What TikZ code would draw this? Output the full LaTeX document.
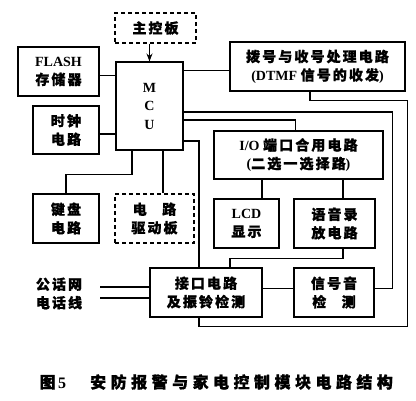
\documentclass[tikz,border=0pt]{standalone}
\usepackage{fontspec}
\setmainfont{Liberation Serif}
\newfontfamily\cjk[LetterSpace=15,FakeBold=1]{Noto Sans CJK SC}
\newfontfamily\capcjk[LetterSpace=28,FakeBold=1]{Noto Sans CJK SC}
\usetikzlibrary{arrows.meta}

\begin{document}
\begin{tikzpicture}[x=1pt, y=-1pt, >=Stealth, line width=1.1pt,
  font=\fontsize{14}{18.5}\selectfont\bfseries,
  b/.style={draw, align=center, inner sep=0pt},
  db/.style={b, dashed, dash pattern=on 4pt off 3pt}]
\useasboundingbox (0,0) rectangle (416,400);
% blocks
\node[db, minimum width=81, minimum height=30] (zkb) at (155.5,28) {\cjk 主控板};
\node[b, minimum width=67, minimum height=88] (mcu) at (149.5,106) {M\\C\\U};
\node[b, minimum width=81, minimum height=49] (flash) at (58.5,71.5) {FLASH\\{\cjk 存储器}};
\node[b, minimum width=66, minimum height=48] (clk) at (66,130) {\cjk 时钟\\\cjk 电路};
\node[b, minimum width=175, minimum height=49] (dtmf) at (317.5,66.5) {\cjk 拨号与收号处理电路\\(DTMF {\cjk 信号的收发})};
\node[b, minimum width=169, minimum height=48] (io) at (298.5,155) {I/O {\cjk 端口合用电路}\\({\cjk 二选一选择路})};
\node[b, minimum width=65, minimum height=49] (lcd) at (246.5,223.5) {LCD\\{\cjk 显示}};
\node[b, minimum width=81, minimum height=49] (voice) at (334.5,223.5) {\cjk 语音录\\\cjk 放电路};
\node[b, minimum width=66, minimum height=49] (kbd) at (66,218.5) {\cjk 键盘\\\cjk 电路};
\node[db, minimum width=79, minimum height=49] (drv) at (154.5,218.5) {{\cjk 电}\hspace{1.1em}{\cjk 路}\\\cjk 驱动板};
\node[b, minimum width=112, minimum height=49] (intf) at (206,292.5) {\cjk 接口电路\\\cjk 及振铃检测};
\node[b, minimum width=80, minimum height=49] (sig) at (334,292.5) {\cjk 信号音\\{\cjk 检}\hspace{1.1em}{\cjk 测}};
\node[align=center, inner sep=0pt] (net) at (59,293.5) {\cjk 公话网\\\cjk 电话线};
\node[anchor=west, inner sep=0pt, font=\fontsize{16}{19}\selectfont\bfseries] (cap) at (39,382) {{\capcjk 图}\,5\hspace{1.5em}{\capcjk 安防报警与家电控制模块电路结构}};
% links
\draw[->] (zkb.south -| mcu.north) -- (mcu.north);
\draw ([yshift=-4]flash.east) -- ([yshift=-4]flash.east -| mcu.west);
\draw ([yshift=-4]clk.east) -- ([yshift=-4]clk.east -| mcu.west);
\draw ([yshift=-4]dtmf.west) -- ([yshift=-4]dtmf.west -| mcu.east);
\draw ([yshift=-6]mcu.east) -| ([xshift=18,yshift=4]sig.east) -- ([yshift=4]sig.east);
\draw ([yshift=-14]mcu.east) -| ([xshift=-3]io.north);
\draw ([yshift=-35]mcu.east) -| ([xshift=-7]intf.north);
\draw ([xshift=-7.5]dtmf.south) |- ([xshift=2,yshift=-9]dtmf.south east) |- ([xshift=-7,yshift=-9]intf.south) -- ([xshift=-7]intf.south);
\draw ([xshift=15.5]lcd.north) -- ([xshift=15.5]lcd.north |- io.south);
\draw ([xshift=8.5]voice.north) -- ([xshift=8.5]voice.north |- io.south);
\draw ([xshift=8.5]voice.south) |- ([xshift=24,yshift=9]intf.north) -- ([xshift=24]intf.north);
\draw ([yshift=4]intf.east) -- ([yshift=4]sig.west);
\draw ([xshift=-17.5]mcu.south) |- ([yshift=19]kbd.north) -- (kbd.north);
\draw ([xshift=13.5]mcu.south) -- ([xshift=8.5]drv.north);
\draw ([xshift=41,yshift=6.5]net.center) -- ([yshift=6.5]net.center -| intf.west);
\draw ([xshift=41,yshift=-4.5]net.center) -- ([yshift=-4.5]net.center -| intf.west);
\end{tikzpicture}
\end{document}
